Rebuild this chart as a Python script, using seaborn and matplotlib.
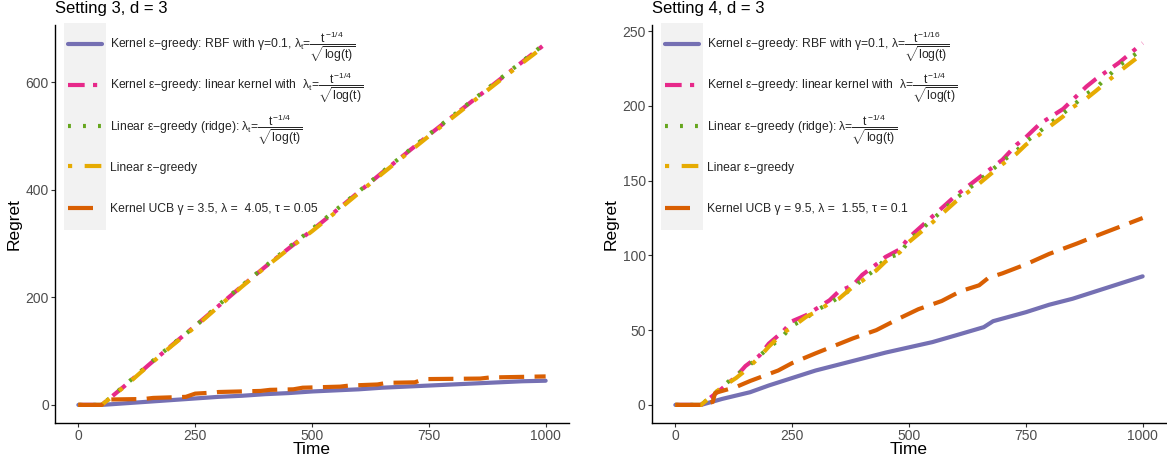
import numpy as np
import pandas as pd
import matplotlib
matplotlib.use("Agg")
import matplotlib.pyplot as plt
from matplotlib.patches import Rectangle
import seaborn as sns

sns.set_theme(style="white")
plt.rcParams["font.family"] = ["Liberation Sans", "DejaVu Sans"]
plt.rcParams["mathtext.fontset"] = "custom"
plt.rcParams["mathtext.rm"] = "Liberation Sans"
plt.rcParams["mathtext.it"] = "Liberation Sans"
plt.rcParams["mathtext.bf"] = "Liberation Sans:bold"

PURPLE = "#7570B3"
PINK = "#E7298A"
GREEN = "#66A61E"
YELLOW = "#E6AB02"
ORANGE = "#D95F02"

# ---- Setting 3 ----
t3 = [0, 50, 100, 150, 200, 250, 300, 350, 400, 450, 500, 550, 600, 650, 700, 750, 800, 850, 900, 950, 1000]
rbf3 = [0, 0, 3, 6, 9, 12, 15, 17, 20, 22, 25, 27, 29, 32, 34, 36, 38, 40, 42, 44, 45]
lin_kernel3 = [0, 0, 36, 74, 111, 147, 184, 221, 257, 291, 325, 360, 396, 432, 467, 502, 536, 570, 604, 638, 672]
ridge3 = [0, 0, 37, 75, 112, 146, 186, 222, 258, 293, 327, 362, 397, 433, 468, 503, 537, 571, 605, 639, 673]
linear3 = [0, 0, 35, 73, 110, 145, 183, 220, 256, 290, 323, 358, 394, 430, 465, 500, 534, 568, 602, 636, 669]
t3_ucb = [0, 50, 60, 140, 160, 230, 250, 290, 300, 390, 410, 460, 480, 560, 580, 640, 660, 720, 740, 860, 880, 1000]
ucb3 = [0, 0, 10, 11, 13, 15, 21, 23, 24, 26, 28, 29, 32, 34, 36, 38, 41, 42, 48, 49, 51, 53]

# ---- Setting 4 ----
t4 = [0, 55, 100, 130, 150, 180, 200, 230, 250, 280, 300, 330, 350, 380, 400, 430, 450, 480,
      500, 550, 600, 650, 700, 730, 750, 780, 800, 830, 850, 880, 900, 950, 1000]
lin_kernel4 = [0, 0, 11, 19, 26, 33, 41, 49, 56, 60, 64, 70, 76, 80, 87, 94, 99, 104,
               112, 126, 140, 152, 164, 174, 179, 188, 192, 198, 204, 213, 218, 229, 242]
ridge4 = [0, 0, 12, 20, 24, 33, 38, 46, 53, 58, 63, 68, 72, 78, 84, 91, 98, 101,
          110, 124, 138, 150, 163, 170, 176, 183, 188, 195, 200, 208, 212, 227, 238]
linear4 = [0, 0, 12, 18, 23, 32, 39, 48, 52, 59, 62, 68, 71, 79, 83, 90, 96, 102,
           109, 122, 136, 148, 161, 168, 174, 181, 186, 193, 199, 205, 210, 223, 235]
t4_rbf = [0, 55, 100, 160, 200, 250, 300, 350, 400, 450, 500, 550, 600, 660, 680, 750, 800, 850, 900, 950, 1000]
rbf4 = [0, 0, 4, 8.5, 13, 18, 23, 27, 31, 35, 38.5, 42, 46.5, 52, 56, 62, 67, 71, 76, 81, 86]
t4_ucb = [0, 55, 80, 85, 130, 160, 220, 250, 300, 340, 380, 430, 480, 520, 570, 610, 650, 670, 700, 750, 800, 860, 900, 950, 1000]
ucb4 = [0, 0, 2, 8, 12, 16, 23, 28, 34.5, 39.5, 44.5, 50, 58, 64, 69.5, 76, 80, 85, 88, 94, 101, 108, 113, 119, 125]

FRAC4 = r"$\dfrac{t^{-1/4}}{\sqrt{\log(t)}}$"
FRAC16 = r"$\dfrac{t^{-1/16}}{\sqrt{\log(t)}}$"

labels3 = [
    "Kernel ε−greedy: RBF with γ=0.1, $\\lambda_t$=" + FRAC4,
    "Kernel ε−greedy: linear kernel with  $\\lambda_t$=" + FRAC4,
    "Linear ε−greedy (ridge): $\\lambda_t$=" + FRAC4,
    "Linear ε−greedy",
    "Kernel UCB γ = 3.5, λ =  4.05, τ = 0.05",
]
labels4 = [
    "Kernel ε−greedy: RBF with γ=0.1, λ=" + FRAC16,
    "Kernel ε−greedy: linear kernel with  λ=" + FRAC4,
    "Linear ε−greedy (ridge): λ=" + FRAC4,
    "Linear ε−greedy",
    "Kernel UCB γ = 9.5, λ =  1.55, τ = 0.1",
]

COLORS = [PURPLE, PINK, GREEN, YELLOW, ORANGE]
STYLES = ["-", (0, (4, 2, 1, 2)), (0, (0.7, 2.9)), (0, (1, 3, 4, 3)), (0, (6, 2.5))]

# legend rows: vertical position of each key (axes fraction), ggplot-like even spacing
KEY_ROWS = [0.952, 0.849, 0.745, 0.645, 0.540]
KEY_X = 0.026


def draw_panel(ax, series, labels, title, yticks):
    lines = []
    for (x, y), lab, col, ls in zip(series, labels, COLORS, STYLES):
        sns.lineplot(x=x, y=y, ax=ax, color=col, linestyle=ls, linewidth=3.0,
                     label=lab, legend=False)
        lines.append(ax.get_lines()[-1])
    allx = np.concatenate([np.asarray(s[0], float) for s in series])
    ally = np.concatenate([np.asarray(s[1], float) for s in series])
    xr = allx.max() - allx.min()
    yr = ally.max() - ally.min()
    ax.set_xlim(allx.min() - 0.05 * xr, allx.max() + 0.05 * xr)
    ax.set_ylim(ally.min() - 0.05 * yr, ally.max() + 0.05 * yr)
    ax.set_xticks([0, 250, 500, 750, 1000])
    ax.set_yticks(yticks)
    ax.tick_params(axis="both", colors="#333333", labelcolor="#4D4D4D",
                   labelsize=10, length=3, width=0.8, pad=1.5, left=True, bottom=True)
    for side in ["top", "right"]:
        ax.spines[side].set_visible(False)
    for side in ["left", "bottom"]:
        ax.spines[side].set_color("black")
        ax.spines[side].set_linewidth(1.0)
    ax.set_xlabel("Time", fontsize=12.5, color="black", labelpad=-1)
    ax.set_ylabel("Regret", fontsize=12.5, color="black", labelpad=3)
    ax.set_title(title, loc="left", fontsize=12, pad=9, color="black")

    # one single-entry legend per row so the rows are evenly spaced
    legends = []
    for line, lab, ypos in zip(lines, labels, KEY_ROWS):
        leg = ax.legend([line], [lab], loc="center left", bbox_to_anchor=(KEY_X, ypos),
                        frameon=False, fontsize=8.7, handlelength=2.75,
                        handletextpad=0.7, borderaxespad=0.0, borderpad=0.0)
        ax.add_artist(leg)
        legends.append(leg)
    ax.legend_ = None  # every row is already an added artist
    return legends


fig = plt.figure(figsize=(11.67, 4.59), dpi=100)
ax1 = fig.add_axes([55 / 1167, 36 / 459, 514 / 1167, 398 / 459])
ax2 = fig.add_axes([652 / 1167, 36 / 459, 514 / 1167, 398 / 459])

legs1 = draw_panel(ax1, [(t3, rbf3), (t3, lin_kernel3), (t3, ridge3), (t3, linear3), (t3_ucb, ucb3)],
                   labels3, "Setting 3, d = 3", [0, 200, 400, 600])
legs2 = draw_panel(ax2, [(t4_rbf, rbf4), (t4, lin_kernel4), (t4, ridge4), (t4, linear4), (t4_ucb, ucb4)],
                   labels4, "Setting 4, d = 3", [0, 50, 100, 150, 200, 250])

# shift each legend so that its key line sits exactly on its row
fig.canvas.draw()
renderer = fig.canvas.get_renderer()
for ax, legs in [(ax1, legs1), (ax2, legs2)]:
    axh = ax.get_window_extent(renderer).height
    for leg, ypos in zip(legs, KEY_ROWS):
        hb = leg.legend_handles[0].get_window_extent(renderer)
        target = ax.transAxes.transform((0, ypos))[1]
        delta = (target - (hb.y0 + hb.y1) / 2) / axh
        leg.set_bbox_to_anchor((KEY_X, ypos + delta), transform=ax.transAxes)

fig.canvas.draw()
for ax, legs in [(ax1, legs1), (ax2, legs2)]:
    hbs = [leg.legend_handles[0].get_window_extent(renderer) for leg in legs]
    inv = ax.transAxes.inverted()
    x0, _ = inv.transform((min(h.x0 for h in hbs) - 4.5, 0))
    x1, _ = inv.transform((max(h.x1 for h in hbs) + 4.5, 0))
    y_top = KEY_ROWS[0] + 0.053
    y_bot = KEY_ROWS[-1] - 0.055
    ax.add_patch(Rectangle((x0, y_bot), x1 - x0, y_top - y_bot, transform=ax.transAxes,
                           facecolor="#F2F2F2", edgecolor="none", zorder=0.5,
                           clip_on=False))

fig.savefig("out.png", dpi=100)
